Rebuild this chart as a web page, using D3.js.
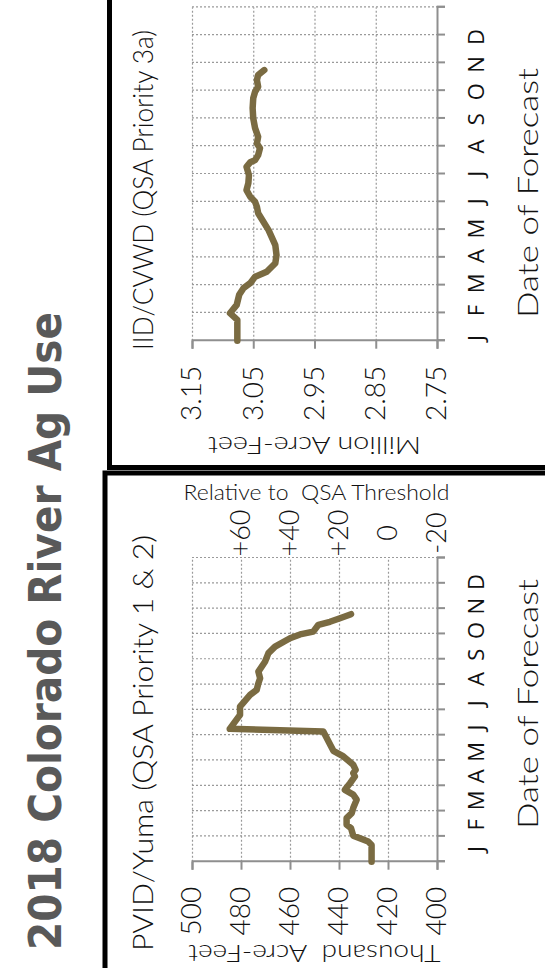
<!DOCTYPE html>
<html>
<head>
<meta charset="utf-8">
<script src="https://cdn.jsdelivr.net/npm/d3@7"></script>
<style>
    body { margin: 0; background: #fff; }
    text { font-family: Lato, "Open Sans", sans-serif; fill: #111; }
</style>
</head>
<body>
<svg id="chart"></svg>
<script>
    var title = '2018 Colorado River Ag Use';
    var months = ['J', 'F', 'M', 'A', 'M', 'J', 'J', 'A', 'S', 'O', 'N', 'D'];

    // PVID/Yuma, thousand acre-feet, time in months since Jan 1
    var pvidMonths = [0, 0.66, 0.8, 1.03, 1.33, 1.46, 1.72, 1.92, 2.12, 2.45, 2.65, 2.84, 3.1, 3.37, 3.5, 3.63,
        3.83, 4.16, 4.38, 5.14, 5.25, 5.8, 6.13, 6.59, 6.79, 7.05, 7.25, 7.51, 7.9, 8.24, 8.5, 8.83,
        8.98, 9.09, 9.36, 9.48, 9.62, 9.78];
    var pvidValues = [426.7, 426.7, 428.1, 434.2, 435.1, 436.9, 436.9, 434.8, 434.2, 432.8, 434.2, 437.6, 435.5, 433.5, 434.2, 433.2,
        434.2, 438.2, 442.3, 446.4, 484.6, 480.4, 480.4, 476.3, 473.6, 472.9, 472.2, 472.9, 470.2, 468.8, 466.1, 460,
        455.9, 450.5, 448.4, 443.7, 439.6, 435.1];
    var pvidTicks = [500, 480, 460, 440, 420, 400];
    var relTicks = [60, 40, 20, 0, -20];
    var threshold = 420;

    // IID/CVWD, million acre-feet
    var iidMonths = [0, 0.75, 0.99, 1.29, 1.65, 1.89, 2.07, 2.3, 2.48, 2.79, 3.08, 3.44, 3.98, 4.59, 4.82, 5.0,
        5.18, 5.42, 5.67, 5.96, 6.26, 6.42, 6.5, 6.68, 6.93, 7.1, 7.34, 7.65, 8.0, 8.37, 8.73, 8.96,
        9.14, 9.38, 9.56, 9.74];
    var iidValues = [3.076, 3.076, 3.088, 3.077, 3.073, 3.066, 3.055, 3.047, 3.028, 3.014, 3.012, 3.014, 3.025, 3.042, 3.044, 3.047,
        3.055, 3.061, 3.058, 3.057, 3.061, 3.055, 3.047, 3.042, 3.039, 3.044, 3.042, 3.047, 3.05, 3.051, 3.05, 3.047,
        3.042, 3.044, 3.042, 3.032];
    var iidTicks = [3.15, 3.05, 2.95, 2.85, 2.75];

(function() {
    var lineColor = '#7a6b42';
    var axisColor = '#8f8f8f';
    var plotTop = 192, plotBottom = 437;

    var svg = d3.select('#chart').attr('width', 545).attr('height', 968);
    // chart is laid out landscape (968 x 545) and turned a quarter turn
    var g = svg.append('g').attr('transform', 'translate(0,968) rotate(-90)');

    // frames
    g.append('rect').attr('x', -10).attr('y', 105).attr('width', 505).attr('height', 470)
        .attr('fill', 'none').attr('stroke', '#000').attr('stroke-width', 5);
    g.append('rect').attr('x', 500.5).attr('y', 109.5).attr('width', 480).attr('height', 470)
        .attr('fill', 'none').attr('stroke', '#000').attr('stroke-width', 5);

    g.append('text')
        .attr('x', 18).attr('y', 61)
        .attr('textLength', 638).attr('lengthAdjust', 'spacingAndGlyphs')
        .style('font-family', '"DejaVu Sans Condensed", "DejaVu Sans", sans-serif')
        .style('font-weight', 'bold').style('font-size', '45px').style('fill', '#595959')
        .text(title);

    function panel(p) {
        var x = d3.scaleLinear().domain([0, 12]).range(p.xRange);
        var y = d3.scaleLinear().domain(p.yDomain).range([plotTop, plotBottom]);
        var pg = g.append('g');

        // gridlines
        pg.append('g')
            .attr('transform', 'translate(' + x(0) + ',0)')
            .call(d3.axisLeft(y).tickValues(p.ticks.slice(0, -1)).tickSize(-(x(12) - x(0))).tickFormat(''))
            .call(function(s) { s.select('.domain').remove(); });
        pg.append('g')
            .attr('transform', 'translate(0,' + plotTop + ')')
            .call(d3.axisBottom(x).tickValues(d3.range(1, 13)).tickSize(plotBottom - plotTop).tickFormat(''))
            .call(function(s) { s.select('.domain').remove(); });
        pg.selectAll('.tick line')
            .attr('stroke', '#9a9a9a').attr('stroke-width', 1.2).attr('stroke-dasharray', '2,2');

        // axes
        var ya = pg.append('g')
            .attr('transform', 'translate(' + x(0) + ',0)')
            .call(d3.axisLeft(y).tickValues(p.ticks).tickSize(8).tickPadding(17).tickFormat(p.fmt));
        var xa = pg.append('g')
            .attr('transform', 'translate(0,' + plotBottom + ')')
            .call(d3.axisBottom(x).tickValues(d3.range(0, 13)).tickSize(8).tickFormat(''));
        [ya, xa].forEach(function(a) {
            a.selectAll('.domain, .tick line').attr('stroke', axisColor).attr('stroke-width', 2);
        });
        ya.selectAll('text').style('font-size', '28px').style('font-weight', 300).attr('fill', '#111');

        if (p.rel) {
            var yr = d3.scaleLinear().domain([p.yDomain[0] - p.rel.base, p.yDomain[1] - p.rel.base])
                .range([plotTop, plotBottom]);
            var ra = pg.append('g')
                .attr('transform', 'translate(' + x(12) + ',0)')
                .call(d3.axisRight(yr).tickValues(p.rel.ticks).tickSize(0)
                    .tickFormat(function(d) { return (d > 0 ? '+' : '') + d; }));
            ra.select('.domain').remove();
            ra.selectAll('text').attr('x', 25).style('text-anchor', 'middle')
                .style('font-size', '27px').style('font-weight', 300).attr('fill', '#111');
            pg.append('text')
                .attr('transform', 'translate(468,' + ((plotTop + plotBottom) / 2 + 2) + ') rotate(90)')
                .attr('textLength', 266).attr('lengthAdjust', 'spacingAndGlyphs')
                .style('text-anchor', 'middle').style('font-size', '21px').style('font-weight', 300)
                .style('white-space', 'pre')
                .text(p.rel.title);
        }

        // month letters
        var mx = d3.scalePoint().domain(d3.range(12)).range(p.monthRange);
        pg.selectAll('.month').data(months).enter().append('text')
            .attr('class', 'month')
            .attr('x', function(d, i) { return mx(i); })
            .attr('y', 484)
            .style('text-anchor', 'middle').style('font-size', '22px')
            .style('font-family', '"Open Sans", sans-serif')
            .text(function(d) { return d; });

        pg.append('text')
            .attr('x', p.dateX).attr('y', 538)
            .attr('textLength', 250).attr('lengthAdjust', 'spacingAndGlyphs')
            .style('text-anchor', 'middle').style('font-size', '27px').style('font-weight', 300)
            .text('Date of Forecast');

        pg.append('text')
            .attr('transform', 'translate(' + p.ytX + ',' + ((plotTop + plotBottom) / 2) + ') rotate(-90)')
            .attr('textLength', p.ytLen).attr('lengthAdjust', 'spacingAndGlyphs')
            .style('text-anchor', 'middle').style('font-size', '24px').style('font-weight', 300)
            .style('white-space', 'pre')
            .text(p.yTitle);

        pg.append('text')
            .attr('x', p.titleX).attr('y', 153)
            .attr('textLength', p.titleLen).attr('lengthAdjust', 'spacingAndGlyphs')
            .style('font-size', '28px').style('font-weight', 300)
            .text(p.title);

        var line = d3.line()
            .x(function(d) { return x(d[0]); })
            .y(function(d) { return y(d[1]); });
        pg.append('path')
            .datum(d3.zip(p.months, p.values))
            .attr('d', line)
            .attr('fill', 'none').attr('stroke', lineColor).attr('stroke-width', 6.5)
            .attr('stroke-linejoin', 'round').attr('stroke-linecap', 'round');
    }

    panel({
        title: 'PVID/Yuma (QSA Priority 1 & 2)', titleX: 17, titleLen: 416,
        xRange: [106.3, 410], yDomain: [500, 400], ticks: pvidTicks, fmt: d3.format('d'),
        months: pvidMonths, values: pvidValues,
        monthRange: [119, 386], dateX: 264, ytX: 23, ytLen: 252, yTitle: 'Thousand  Acre-Feet',
        rel: { base: threshold, ticks: relTicks, title: 'Relative to  QSA Threshold' }
    });

    panel({
        title: 'IID/CVWD (QSA Priority 3a)', titleX: 618, titleLen: 320,
        xRange: [627.3, 960.7], yDomain: [3.15, 2.75], ticks: iidTicks, fmt: d3.format('.2f'),
        months: iidMonths, values: iidValues,
        monthRange: [630, 931], dateX: 775, ytX: 531, ytLen: 213, yTitle: 'Million Acre-Feet'
    });
})();
</script>
</body>
</html>
